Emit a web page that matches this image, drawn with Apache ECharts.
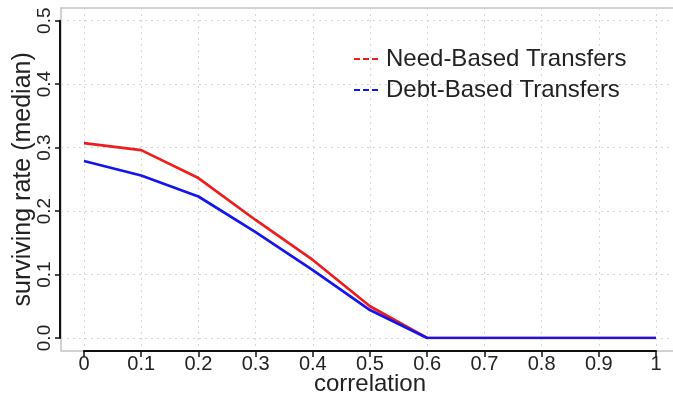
<!DOCTYPE html>
<html>
<head>
<meta charset="utf-8">
<script src="https://cdn.jsdelivr.net/npm/echarts@6/dist/echarts.min.js"></script>
<style>
html,body{margin:0;padding:0;background:#fff;}
#chart{width:673px;height:398px;}
</style>
</head>
<body>
<div id="chart"></div>
<script>
var correlation = [0, 0.1, 0.2, 0.3, 0.4, 0.5, 0.6, 0.7, 0.8, 0.9, 1.0];
var needBased = [0.307, 0.296, 0.252, 0.186, 0.123, 0.050, 0, 0, 0, 0, 0];
var debtBased = [0.279, 0.256, 0.223, 0.167, 0.107, 0.044, 0, 0, 0, 0, 0];
var xTickValues = [0, 0.1, 0.2, 0.3, 0.4, 0.5, 0.6, 0.7, 0.8, 0.9, 1.0];
var xTickLabels = ['0', '0.1', '0.2', '0.3', '0.4', '0.5', '0.6', '0.7', '0.8', '0.9', '1'];
var yTickValues = [0, 0.1, 0.2, 0.3, 0.4, 0.5];
var yTickLabels = ['0.0', '0.1', '0.2', '0.3', '0.4', '0.5'];
var seriesNames = ['Need-Based Transfers', 'Debt-Based Transfers'];

var FONT = '"Liberation Sans", Arial, sans-serif';
var TXT = '#222';

function pair(xs, ys) {
  return xs.map(function (x, i) { return [x, ys[i]]; });
}
function labelFor(values, labels) {
  return function (v) {
    for (var i = 0; i < values.length; i++) {
      if (Math.abs(values[i] - v) < 1e-6) return labels[i];
    }
    return '';
  };
}

var chart = echarts.init(document.getElementById('chart'), null, {renderer: 'canvas'});
chart.setOption({
  backgroundColor: '#fff',
  animation: false,
  textStyle: {fontFamily: FONT},
  legend: {
    orient: 'vertical',
    left: 349,
    top: 42,
    itemWidth: 24,
    itemHeight: 14,
    itemGap: 7,
    icon: 'path://M0,0h6v2h-6zM9,0h6v2h-6zM18,0h6v2h-6z',
    textStyle: {fontSize: 24, color: TXT, fontFamily: FONT, padding: [0, 0, 0, 3]},
    data: seriesNames
  },
  grid: [
    {left: 61, right: -5, top: 8, bottom: 47, show: true, borderColor: '#c4c4c4', borderWidth: 1.5, backgroundColor: 'transparent', containLabel: false, outerBoundsMode: 'none'},
    {left: 84, right: 17, top: 20.7, bottom: 60, containLabel: false, outerBoundsMode: 'none'}
  ],
  xAxis: [
    {
      gridIndex: 0, type: 'value', min: -0.0402, max: 1.0385,
      axisLine: {show: false},
      axisTick: {show: false, customValues: xTickValues},
      axisLabel: {show: false, customValues: xTickValues},
      splitLine: {show: true, lineStyle: {color: '#d6d6d6', type: [2, 4], width: 1}}
    },
    {
      gridIndex: 1, type: 'value', min: 0, max: 1, interval: 0.1,
      offset: 13,
      name: 'correlation', nameLocation: 'middle', nameGap: 21, nameMoveOverlap: false,
      nameTextStyle: {fontSize: 24, color: TXT, fontFamily: FONT},
      axisLine: {show: true, onZero: false, lineStyle: {color: '#111', width: 2}},
      axisTick: {show: true, length: 6, lineStyle: {color: '#111', width: 1.5}},
      axisLabel: {fontSize: 20, color: TXT, fontFamily: FONT, margin: 3, formatter: labelFor(xTickValues, xTickLabels)},
      splitLine: {show: false}
    }
  ],
  yAxis: [
    {
      gridIndex: 0, type: 'value', min: -0.0204, max: 0.520,
      axisLine: {show: false},
      axisTick: {show: false, customValues: yTickValues},
      axisLabel: {show: false, customValues: yTickValues},
      splitLine: {show: true, lineStyle: {color: '#d6d6d6', type: [2, 4], width: 1}}
    },
    {
      gridIndex: 1, type: 'value', min: 0, max: 0.5, interval: 0.1,
      offset: 24,
      name: 'surviving rate (median)', nameLocation: 'middle', nameGap: 24, nameRotate: 90, nameMoveOverlap: false,
      nameTextStyle: {fontSize: 25, color: TXT, fontFamily: FONT},
      axisLine: {show: true, onZero: false, lineStyle: {color: '#111', width: 2}},
      axisTick: {show: true, length: 5, lineStyle: {color: '#111', width: 1.5}},
      axisLabel: {fontSize: 19, color: TXT, fontFamily: FONT, margin: 6, rotate: 90, formatter: labelFor(yTickValues, yTickLabels)},
      splitLine: {show: false}
    }
  ],
  series: [
    {
      name: seriesNames[0], type: 'line', xAxisIndex: 1, yAxisIndex: 1,
      data: pair(correlation, needBased),
      symbol: 'none', color: '#ee1c1c',
      lineStyle: {color: '#ee1c1c', width: 2.7}
    },
    {
      name: seriesNames[1], type: 'line', xAxisIndex: 1, yAxisIndex: 1,
      data: pair(correlation, debtBased),
      symbol: 'none', color: '#1414ee',
      lineStyle: {color: '#1414ee', width: 2.7}
    }
  ]
});
</script>
</body>
</html>
